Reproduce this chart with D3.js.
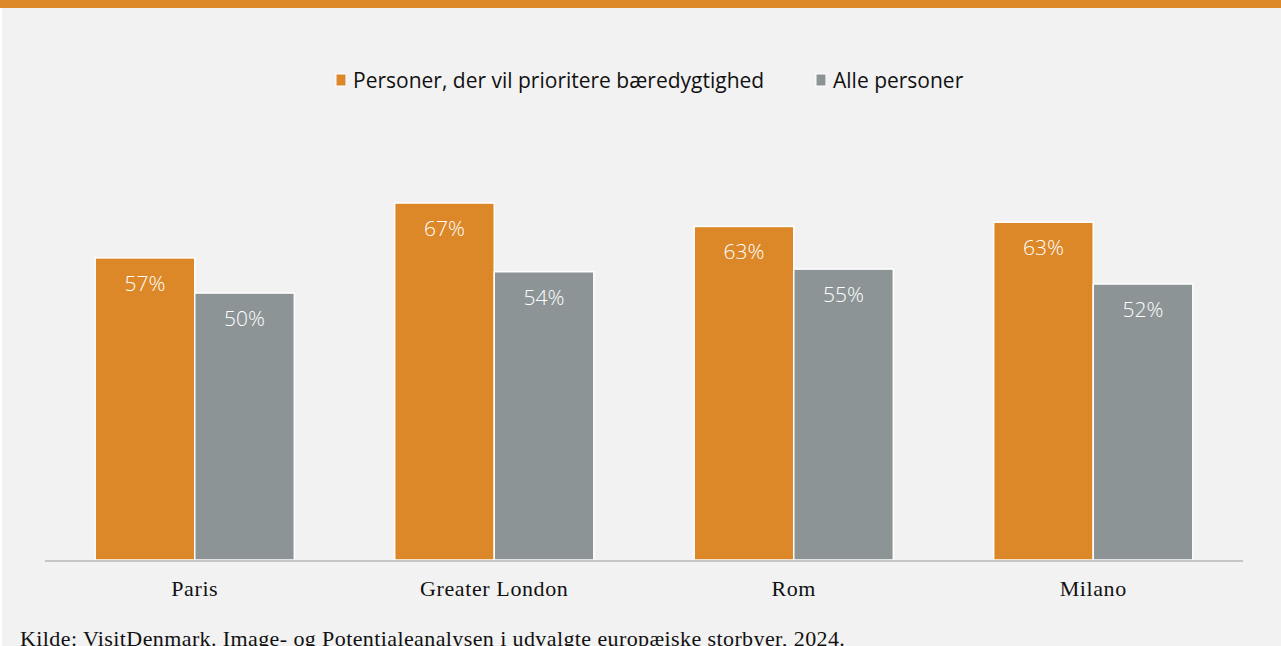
<!DOCTYPE html>
<html>
<head>
<meta charset="utf-8">
<script src="https://cdn.jsdelivr.net/npm/d3@7"></script>
<style>
  body { margin: 0; background: #fff; }
  svg { display: block; }
</style>
</head>
<body>
<div id="chart"></div>
<script>
// Data
const cities = [ "Paris", "Greater London", "Rom", "Milano" ];
const seriesNames = [ "Personer, der vil prioritere bæredygtighed", "Alle personer" ];
const sustainable = [ 56.7, 67.0, 62.6, 63.4 ];
const allPersons = [ 50.1, 54.1, 54.6, 51.8 ];
const colors = [ "#dc8828", "#8c9496" ];
const source = "Kilde: VisitDenmark. Image- og Potentialeanalysen i udvalgte europæiske storbyer, 2024.";

const W = 1281, H = 646;
const margin = { left: 45, right: 38, top: 0, bottom: 86 };
const baseY = 560;

const svg = d3.select( "#chart" )
  .append( "svg" )
  .attr( "width", W )
  .attr( "height", H );

// panel + top stripe
svg.append( "rect" ).attr( "x", 2 ).attr( "y", 0 ).attr( "width", W - 2 ).attr( "height", H ).attr( "fill", "#f2f2f2" );
svg.append( "rect" ).attr( "x", 0 ).attr( "y", 0 ).attr( "width", W ).attr( "height", 8 ).attr( "fill", "#dc8828" );

const x = d3.scaleBand()
  .domain( cities )
  .range( [ margin.left, W - margin.right ] )
  .paddingInner( 0.335 )
  .paddingOuter( 0.1675 );

const xs = d3.scaleBand()
  .domain( [ 0, 1 ] )
  .range( [ 0, x.bandwidth() ] );

const y = d3.scaleLinear()
  .domain( [ 0, 67 ] )
  .range( [ baseY, 203 ] );

const rows = cities.map( ( c, i ) => ( { city: c, vals: [ sustainable[ i ], allPersons[ i ] ] } ) );

const groups = svg.selectAll( "g.city" )
  .data( rows )
  .enter()
  .append( "g" )
  .attr( "class", "city" )
  .attr( "transform", d => `translate(${ x( d.city ) },0)` );

const bars = groups.selectAll( "g.bar" )
  .data( d => d.vals.map( ( v, s ) => ( { v, s } ) ) )
  .enter()
  .append( "g" )
  .attr( "class", "bar" );

bars.append( "rect" )
  .attr( "x", d => xs( d.s ) )
  .attr( "y", d => y( d.v ) )
  .attr( "width", xs.bandwidth() )
  .attr( "height", d => baseY - y( d.v ) )
  .attr( "fill", d => colors[ d.s ] )
  .attr( "stroke", "#fff" )
  .attr( "stroke-width", 1.5 );

bars.append( "text" )
  .attr( "x", d => xs( d.s ) + xs.bandwidth() / 2 )
  .attr( "y", d => y( d.v ) + 33 )
  .attr( "text-anchor", "middle" )
  .attr( "fill", "#fff" )
  .style( "font-family", "'Open Sans', 'Noto Sans', sans-serif" )
  .style( "font-size", "21px" )
  .style( "font-weight", 300 )
  .text( d => Math.round( d.v ) + "%" );

// baseline
svg.append( "line" )
  .attr( "x1", margin.left ).attr( "x2", W - margin.right )
  .attr( "y1", baseY + 1 ).attr( "y2", baseY + 1 )
  .attr( "stroke", "#c6c6c6" )
  .attr( "stroke-width", 2 );

// category labels
svg.selectAll( "text.cat" )
  .data( cities )
  .enter()
  .append( "text" )
  .attr( "class", "cat" )
  .attr( "x", d => x( d ) + x.bandwidth() / 2 )
  .attr( "y", 596 )
  .attr( "text-anchor", "middle" )
  .attr( "fill", "#111" )
  .style( "font-family", "'Liberation Serif', 'DejaVu Serif', serif" )
  .style( "font-size", "22px" )
  .style( "letter-spacing", "0.6px" )
  .text( d => d );

// legend
const legendX = [ 336, 816 ];
const legend = svg.selectAll( "g.legend" )
  .data( seriesNames )
  .enter()
  .append( "g" )
  .attr( "class", "legend" )
  .attr( "transform", ( d, i ) => `translate(${ legendX[ i ] },74)` );

legend.append( "rect" )
  .attr( "width", 10 ).attr( "height", 12 )
  .attr( "fill", ( d, i ) => colors[ i ] )
  .attr( "stroke", "#fff" ).attr( "stroke-width", 1 );

legend.append( "text" )
  .attr( "x", 17 )
  .attr( "y", 13.5 )
  .attr( "fill", "#111" )
  .style( "font-family", "'Open Sans', 'Noto Sans', sans-serif" )
  .style( "font-size", "21px" )
  .text( d => d );

// source
svg.append( "text" )
  .attr( "x", 20 )
  .attr( "y", 646 )
  .attr( "fill", "#111" )
  .style( "font-family", "'Liberation Serif', 'DejaVu Serif', serif" )
  .style( "font-size", "22px" )
  .style( "letter-spacing", "0.4px" )
  .text( source );
</script>
</body>
</html>
